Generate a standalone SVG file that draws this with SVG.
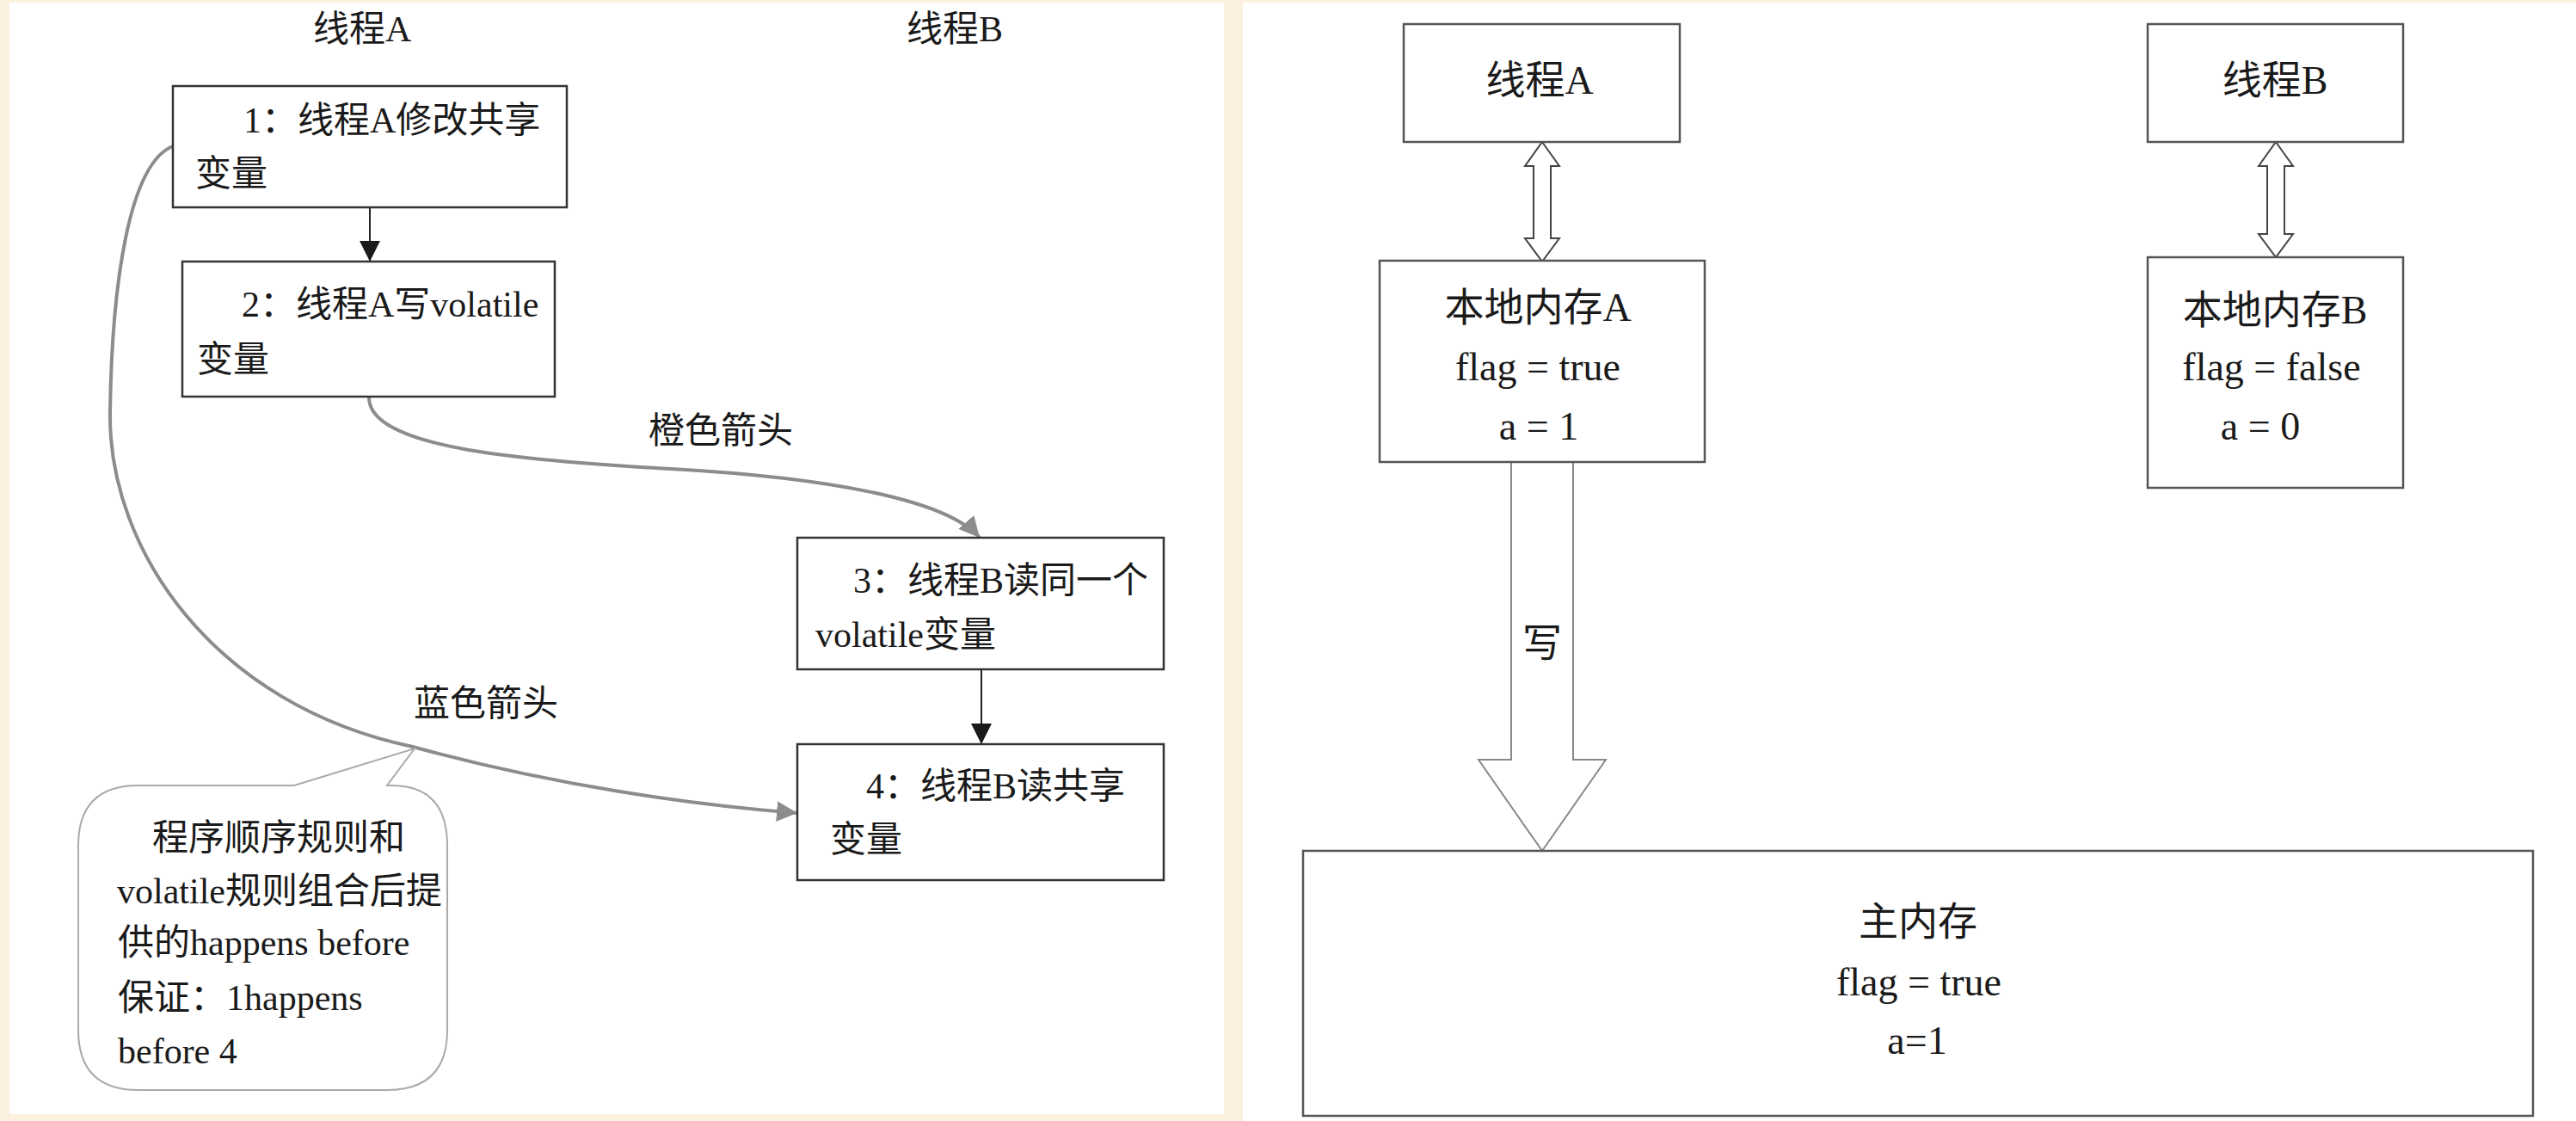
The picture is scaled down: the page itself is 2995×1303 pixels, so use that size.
<svg xmlns="http://www.w3.org/2000/svg" width="2995" height="1303" viewBox="0 0 2995 1303">
<style>
.bg{fill:#FBF1DE}
.panel{fill:#ffffff}
.box{fill:#ffffff;stroke:#333333;stroke-width:2.5}
.rbox{fill:#ffffff;stroke:#555555;stroke-width:2.5}
.t{font-family:"Liberation Serif","Noto Sans CJK SC",serif;font-size:42px;fill:#1a1a1a}
.tr{font-family:"Liberation Serif","Noto Sans CJK SC",serif;font-size:46px;fill:#1a1a1a;text-anchor:middle}
.curve{fill:none;stroke:#8c8c8c;stroke-width:4}
.straight{fill:none;stroke:#222222;stroke-width:2}
.hollow{fill:#ffffff;stroke:#444444;stroke-width:2}
.big{fill:#ffffff;stroke:#888888;stroke-width:2}
.bubble{fill:#ffffff;stroke:#aaaaaa;stroke-width:2}
</style>
<defs>
<marker id="blk" markerUnits="userSpaceOnUse" markerWidth="24" markerHeight="24" refX="24" refY="12" orient="auto">
<path d="M0,0 L24,12 L0,24 Z" fill="#1a1a1a"/>
</marker>
<marker id="gry" markerUnits="userSpaceOnUse" markerWidth="26" markerHeight="24" refX="24" refY="12" orient="auto">
<path d="M0,0 L24,12 L0,24 Z" fill="#8c8c8c"/>
</marker>
</defs>
<rect class="bg" x="0" y="0" width="2995" height="1303"/>
<rect class="panel" x="11" y="3" width="1412" height="1292"/>
<rect class="panel" x="1445" y="3" width="1550" height="1300"/>

<g id="titleA"><text class="t" x="364" y="48">线程A</text></g>
<g id="titleB"><text class="t" x="1054" y="48">线程B</text></g>

<g id="connectors">
<line class="straight" x1="430" y1="242" x2="430" y2="304" marker-end="url(#blk)"/>
<line class="straight" x1="1141" y1="779" x2="1141" y2="865" marker-end="url(#blk)"/>
<path class="curve" d="M429,462 C429,520 600,535 780,545 C960,555 1100,580 1139,625" marker-end="url(#gry)"/>
<path class="curve" d="M201,170 C150,190 130,330 128,480 C126,640 250,820 480,868 C640,912 800,935 927,945" marker-end="url(#gry)"/>
<polygon class="hollow" points="1793,165 1813,193 1803,193 1803,277 1813,277 1793,304 1773,277 1783,277 1783,193 1773,193"/>
<polygon class="hollow" points="2646,165 2666,193 2656,193 2656,272 2666,272 2646,299 2626,272 2636,272 2636,193 2626,193"/>
<polygon class="big" points="1757,537 1829,537 1829,883 1867,883 1793,989 1719,883 1757,883"/>
</g>

<g id="lblOrange"><text class="t" x="754" y="515">橙色箭头</text></g>
<g id="lblBlue"><text class="t" x="481" y="832">蓝色箭头</text></g>
<g id="lblWrite"><text class="tr" x="1793" y="763">写</text></g>

<g id="node1">
<rect class="box" x="201" y="100" width="458" height="141"/>
<text class="t" x="283" y="154">1：线程A修改共享</text>
<text class="t" x="227" y="216">变量</text>
</g>
<g id="node2">
<rect class="box" x="212" y="304" width="433" height="157"/>
<text class="t" x="281" y="368">2：线程A写volatile</text>
<text class="t" x="229" y="432">变量</text>
</g>
<g id="node3">
<rect class="box" x="927" y="625" width="426" height="153"/>
<text class="t" x="992" y="689">3：线程B读同一个</text>
<text class="t" x="948" y="752">volatile变量</text>
</g>
<g id="node4">
<rect class="box" x="927" y="865" width="426" height="158"/>
<text class="t" x="1007" y="928">4：线程B读共享</text>
<text class="t" x="965" y="990">变量</text>
</g>
<g id="callout">
<path class="bubble" d="M161,913 L342,913 L482,870 L450,913 L455,913 Q520,913 520,983 L520,1197 Q520,1267 450,1267 L161,1267 Q91,1267 91,1197 L91,983 Q91,913 161,913 Z"/>
<text class="t" x="177" y="988">程序顺序规则和</text>
<text class="t" x="136" y="1050">volatile规则组合后提</text>
<text class="t" x="137" y="1110">供的happens before</text>
<text class="t" x="137" y="1174">保证：1happens</text>
<text class="t" x="137" y="1236">before 4</text>
</g>

<g id="threadA">
<rect class="rbox" x="1632" y="28" width="321" height="137"/>
<text class="tr" x="1790" y="109">线程A</text>
</g>
<g id="threadB">
<rect class="rbox" x="2497" y="28" width="297" height="137"/>
<text class="tr" x="2645" y="109">线程B</text>
</g>
<g id="localA">
<rect class="rbox" x="1604" y="303" width="378" height="234"/>
<text class="tr" x="1788" y="373">本地内存A</text>
<text class="tr" x="1788" y="442">flag = true</text>
<text class="tr" x="1789" y="511">a = 1</text>
</g>
<g id="localB">
<rect class="rbox" x="2497" y="299" width="297" height="268"/>
<text class="tr" x="2645" y="376">本地内存B</text>
<text class="tr" x="2641" y="442">flag = false</text>
<text class="tr" x="2628" y="511">a = 0</text>
</g>
<g id="mainMem">
<rect class="rbox" x="1515" y="989" width="1430" height="308"/>
<text class="tr" x="2230" y="1087">主内存</text>
<text class="tr" x="2231" y="1157">flag = true</text>
<text class="tr" x="2229" y="1225">a=1</text>
</g>
</svg>
